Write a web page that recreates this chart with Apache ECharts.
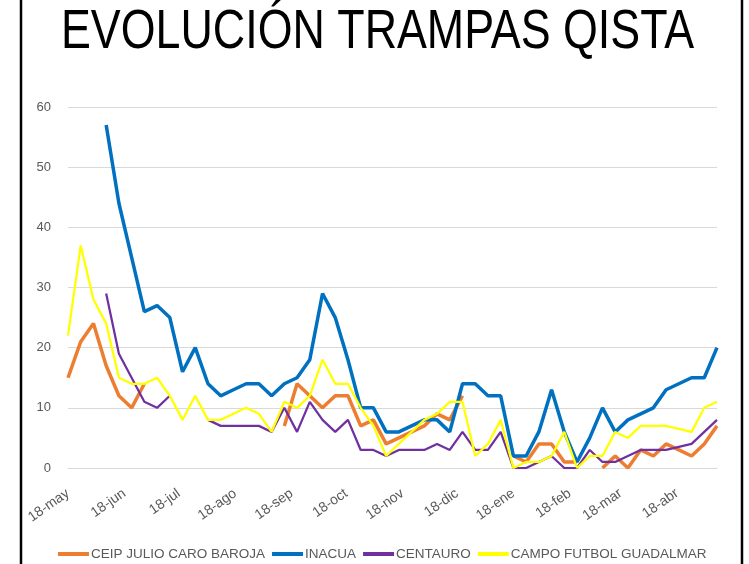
<!DOCTYPE html>
<html>
<head>
<meta charset="utf-8">
<title>Evolución trampas QISTA</title>
<script src="https://cdn.jsdelivr.net/npm/echarts@6.0.0/dist/echarts.min.js"></script>
<style>
  html, body { margin: 0; padding: 0; background: #ffffff; }
  #chart { width: 749px; height: 564px; }
</style>
</head>
<body>
<div id="chart"></div>
<script>
// etiquetas del eje X: el dia 18 de cada mes, en dias desde el 18-may
const monthLabels = ['18-may', '18-jun', '18-jul', '18-ago', '18-sep', '18-oct',
  '18-nov', '18-dic', '18-ene', '18-feb', '18-mar', '18-abr']
const monthDays = [0, 31, 61, 92, 123, 153, 184, 214, 245, 276, 304, 335]

// una lectura por semana (52 semanas desde el 18-may)
const ceip = [15, 21, 24, 17, 12, 10, 14, null, null, null,
  null, null, null, null, null, null, null, 7, 14, 12,
  10, 12, 12, 7, 8, 4, 5, 6, 7, 9,
  8, 12, null, null, null, 2, 1, 4, 4, 1,
  1, null, 0, 2, 0, 3, 2, 4, 3, 2,
  4, 7]
const inacua = [null, null, null, 57, 44, 35, 26, 27, 25, 16,
  20, 14, 12, 13, 14, 14, 12, 14, 15, 18,
  29, 25, 18, 10, 10, 6, 6, 7, 8, 8,
  6, 14, 14, 12, 12, 2, 2, 6, 13, 6,
  1, 5, 10, 6, 8, 9, 10, 13, 14, 15,
  15, 20]
const centauro = [null, null, null, 29, 19, 15, 11, 10, 12, null,
  null, 8, 7, 7, 7, 7, 6, 10, 6, 11,
  8, 6, 8, 3, 3, 2, 3, 3, 3, 4,
  3, 6, 3, 3, 6, 0, 0, 1, 2, 0,
  0, 3, 1, 1, 2, 3, 3, 3, 3.5, 4,
  6, 8]
const campo = [22, 37, 28, 24, 15, 14, 14, 15, 12, 8,
  12, 8, 8, 9, 10, 9, 6, 11, 10, 12,
  18, 14, 14, 10, 7, 2, 4, 6, 8, 9,
  11, 11, 2, 4, 8, 0, 1, 1, 2, 6,
  0, 2, 2, 6, 5, 7, 7, 7, 6.5, 6,
  10, 11]

const seriesNames = ['CEIP JULIO CARO BAROJA', 'INACUA', 'CENTAURO', 'CAMPO FUTBOL GUADALMAR']
const seriesValues = [ceip, inacua, centauro, campo]
const seriesColors = ['#ED7D31', '#0070C0', '#7030A0', '#FFFF00']
const seriesWidths = [3.5, 3.5, 2.25, 2.25]

const chart = echarts.init(document.getElementById('chart'))

chart.setOption({
  backgroundColor: '#ffffff',
  animation: false,
  graphic: [
    {
      // titulo: Calibri Light estrecha, se imita escalando en horizontal
      type: 'text',
      x: 377.5,
      y: 33,
      scaleX: 0.8,
      style: {
        text: 'EVOLUCIÓN TRAMPAS QISTA',
        x: 0,
        y: 0,
        align: 'center',
        verticalAlign: 'middle',
        font: 'normal 56px "Liberation Sans"',
        fill: '#000000'
      }
    },
    { type: 'line', shape: { x1: 21, y1: 0, x2: 21, y2: 564 }, style: { stroke: '#000', lineWidth: 2.5 } },
    { type: 'line', shape: { x1: 742, y1: 0, x2: 742, y2: 564 }, style: { stroke: '#000', lineWidth: 2.5 } }
  ],
  legend: {
    left: 58,
    top: 547,
    padding: 0,
    icon: 'rect',
    itemWidth: 31,
    itemHeight: 4,
    itemGap: 7,
    textStyle: {
      fontFamily: 'Liberation Sans',
      fontSize: 13.5,
      color: '#595959',
      padding: [0, 0, 0, -3]
    },
    data: seriesNames
  },
  grid: {
    left: 68,
    right: 32,
    top: 107,
    bottom: 96,
    containLabel: false,
    outerBoundsMode: 'none'
  },
  xAxis: {
    type: 'value',
    min: 0,
    max: 357,
    splitLine: { show: false },
    axisTick: { show: false },
    axisLine: { show: true, lineStyle: { color: '#d9d9d9', width: 1 } },
    axisLabel: {
      customValues: monthDays,
      rotate: 35,
      margin: 24,
      fontFamily: 'Liberation Sans',
      fontSize: 14,
      color: '#595959',
      formatter: function (v) {
        const k = monthDays.indexOf(v)
        return k >= 0 ? monthLabels[k] : ''
      }
    }
  },
  yAxis: {
    type: 'value',
    min: 0,
    max: 60,
    interval: 10,
    axisLine: { show: false },
    axisTick: { show: false },
    splitLine: { lineStyle: { color: '#d9d9d9', width: 1 } },
    axisLabel: {
      margin: 17,
      fontFamily: 'Liberation Sans',
      fontSize: 13,
      color: '#595959'
    }
  },
  series: seriesNames.map(function (name, s) {
    return {
      name: name,
      type: 'line',
      symbol: 'none',
      connectNulls: false,
      color: seriesColors[s],
      lineStyle: { color: seriesColors[s], width: seriesWidths[s] },
      data: seriesValues[s].map(function (v, i) { return [i * 7, v] })
    }
  })
})
</script>
</body>
</html>
